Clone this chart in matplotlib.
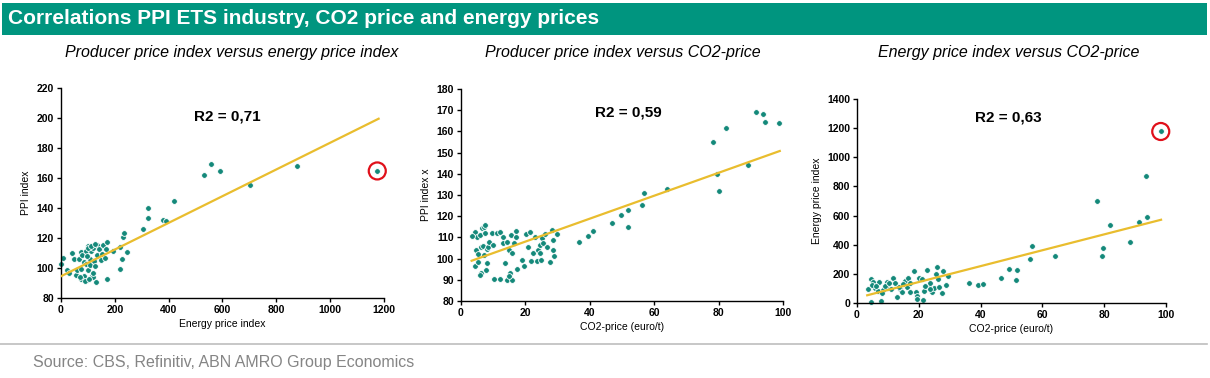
import numpy as np
import matplotlib
matplotlib.use('Agg')
import matplotlib.pyplot as plt
from matplotlib.patches import Rectangle
from matplotlib.lines import Line2D

plt.rcParams['font.family'] = ['Liberation Sans', 'DejaVu Sans']

# ---------------- data ----------------
# panel 1: energy price index (x) vs PPI index (y)
p1_energy = [0, 9, 24, 30, 42, 47, 55, 58, 67, 73, 76, 79, 84, 87, 92, 93, 97, 99, 102, 106,
             109, 112, 114, 118, 120, 124, 126, 129, 133, 135, 142, 148, 151, 157, 164, 166,
             172, 172, 194, 219, 218, 226, 232, 233, 244, 303, 322, 324, 378, 390, 421,
             533, 558, 591, 701, 875, 1175,
             100, 110, 125, 85, 75, 90, 70, 105, 118, 96]
p1_ppi = [102.7, 106.9, 98.9, 96.9, 110.0, 106.2, 95.1, 98.7, 105.8, 99.3, 110.9, 108.4, 104.2,
          94.4, 111.6, 102.4, 92.0, 98.7, 114.7, 106.0, 102.0, 111.3, 95.0, 113.6, 93.8, 104.7,
          101.3, 90.7, 108.7, 115.3, 112.4, 105.3, 109.1, 115.3, 106.4, 112.4, 117.3, 92.7,
          111.6, 113.8, 99.3, 105.8, 120.7, 123.3, 110.7, 125.8, 133.1, 140.0, 132.2, 131.1,
          144.4, 162.0, 169.6, 164.7, 155.4, 168.3, 164.7,
          113.5, 114.5, 116.0, 95.0, 92.5, 91.5, 94.0, 92.8, 96.5, 108.0]
p1_trend = (94.5, 0.0890)          # intercept, slope
p1_trend_range = (0, 1180)
p1_r2 = 'R2 = 0,71'
p1_highlight = (1175, 164.7)

# panel 2: CO2 price (x) vs PPI index (y)
p2_co2 = [4.4, 4.6, 4.4, 5.0, 5.4, 6.1, 5.9, 6.3, 6.6, 7.1, 7.5, 6.8, 7.0, 8.0, 8.0, 7.8, 8.5,
          8.7, 9.5, 10.0, 10.3, 11.1, 12.1, 12.1, 13.0, 13.0, 13.7, 14.2, 14.3, 14.9, 15.2,
          15.6, 15.8, 15.9, 16.5, 17.1, 17.1, 17.3, 18.9, 19.7, 20.1, 20.7, 21.4, 21.8, 22.5,
          23.0, 23.5, 23.8, 24.4, 24.6, 24.8, 25.2, 25.6, 26.1, 26.6, 27.7, 28.2, 28.5, 28.7,
          29.0, 29.7, 3.5, 6.0, 7.5, 14.8, 5.2,
          36.6, 39.4, 40.9, 46.8, 49.6, 51.8, 52.0, 56.2, 56.8, 64.1, 78.2, 79.5, 80.0,
          82.3, 89.0, 91.7, 93.8, 94.3, 98.7]
p2_ppi = [96.5, 104.1, 112.7, 110.0, 98.5, 105.5, 110.9, 93.0, 114.5, 114.8, 112.2, 106.0, 101.5,
          98.0, 104.6, 94.6, 105.6, 107.8, 112.0, 106.4, 90.3, 112.0, 112.6, 90.2, 110.4, 107.5,
          97.8, 89.8, 107.8, 104.1, 93.1, 111.0, 102.5, 90.0, 107.2, 113.1, 110.1, 95.0, 99.5,
          96.5, 111.6, 105.7, 112.5, 98.8, 102.6, 110.2, 98.8, 104.1, 106.2, 102.6, 99.5, 109.8,
          107.5, 111.5, 105.7, 98.5, 113.3, 108.8, 104.2, 101.3, 111.7, 110.5, 92.5, 116.0,
          92.0, 102.0,
          107.8, 110.5, 112.9, 116.9, 120.8, 115.1, 123.1, 125.4, 131.1, 132.7, 155.2, 139.7,
          131.9, 161.8, 144.2, 169.3, 168.0, 164.4, 164.1]
p2_trend = (97.2, 0.541)
p2_trend_range = (3.3, 99)
p2_r2 = 'R2 = 0,59'

# panel 3: CO2 price (x) vs energy price index (y)
p3_co2 = [4.4, 7.7, 4.5, 5.3, 7.1, 3.7, 5.8, 6.7, 8.5, 9.6, 10.1, 11.8, 12.3, 12.8, 14.0, 14.5,
          15.5, 16.1, 16.6, 17.1, 18.5, 19.1, 19.3, 19.5, 20.0, 20.9, 21.5, 21.8, 22.5, 23.3,
          23.6, 24.4, 24.9, 25.5, 25.8, 26.3, 26.5, 27.6, 27.9, 28.7, 29.5,
          5.0, 6.3, 9.0, 10.5, 13.5, 15.0, 17.0, 22.0, 23.5, 8.0, 11.0,
          36.4, 39.3, 40.9, 46.6, 49.2, 51.5, 51.9, 55.9, 56.5, 64.0, 77.8, 79.2, 79.6,
          81.9, 88.5, 91.4, 93.5, 93.9, 98.3]
p3_energy = [5, 13, 162, 146, 146, 93, 101, 85, 89, 146, 101, 169, 135, 39, 96, 78, 151, 112,
             169, 78, 220, 78, 48, 27, 169, 162, 20, 82, 227, 117, 140, 73, 105, 197, 245, 162,
             112, 71, 220, 124, 188,
             125, 115, 120, 140, 110, 130, 140, 120, 95, 70, 95,
             135, 121, 130, 173, 232, 158, 229, 301, 388, 321, 698, 321, 376, 532, 420, 558,
             872, 592, 1177]
p3_trend = (35, 5.45)
p3_trend_range = (3.3, 98.4)
p3_r2 = 'R2 = 0,63'
p3_highlight = (98.3, 1177)

# ---------------- styling ----------------
teal = '#00957F'
dot = '#14897A'
gold = '#E9BD2E'

fig = plt.figure(figsize=(12.1, 3.78), dpi=100)

# header bar
fig.patches.append(Rectangle((2 / 1210, 1 - 35 / 378), 1205 / 1210, 32 / 378,
                             transform=fig.transFigure, facecolor=teal, edgecolor='none'))
fig.text(8 / 1210, 1 - 19 / 378, 'Correlations PPI ETS industry, CO2 price and energy prices',
         color='white', fontsize=15, fontweight='bold', va='center', ha='left')

# footer
fig.add_artist(Line2D([0, 1207 / 1210], [1 - 344 / 378] * 2, transform=fig.transFigure,
                      color='#BDBDBD', linewidth=1.2))
fig.text(33 / 1210, 1 - 363 / 378, 'Source: CBS, Refinitiv, ABN AMRO Group Economics',
         color='#858585', fontsize=11.5, va='center', ha='left')


def panel(rect, x, y, trend, trange, r2, r2pos, xlim, ylim, xticks, yticks,
          xlabel, ylabel, subtitle, subx, highlight=None):
    ax = fig.add_axes(rect)
    ax.scatter(x, y, s=17, color=dot, edgecolors='white', linewidths=0.6, zorder=2,
               clip_on=False)
    tx = np.array(trange)
    ax.plot(tx, trend[0] + trend[1] * tx, color=gold, linewidth=1.6, zorder=3)
    if highlight is not None:
        ax.scatter([highlight[0]], [highlight[1]], s=150, facecolors='none',
                   edgecolors='#E0101A', linewidths=1.6, zorder=4, clip_on=False)
    ax.text(r2pos[0], r2pos[1], r2, fontsize=11, fontweight='bold', ha='center', va='center')
    ax.set_xlim(xlim)
    ax.set_ylim(ylim)
    ax.set_xticks(xticks)
    ax.set_yticks(yticks)
    for s in ['top', 'right']:
        ax.spines[s].set_visible(False)
    for s in ['left', 'bottom']:
        ax.spines[s].set_linewidth(1.0)
    ax.tick_params(direction='out', length=3, width=1, labelsize=7.5, pad=2)
    for lab in ax.get_xticklabels() + ax.get_yticklabels():
        lab.set_fontweight('bold')
    ax.set_xlabel(xlabel, fontsize=7.5, labelpad=3)
    ax.set_ylabel(ylabel, fontsize=7.5, labelpad=4)
    fig.text(subx / 1210, 1 - 52 / 378, subtitle, fontsize=11.5, style='italic',
             ha='center', va='center')
    return ax


panel([61 / 1210, 1 - 298 / 378, 323 / 1210, 210 / 378], p1_energy, p1_ppi,
      p1_trend, p1_trend_range, p1_r2, (617, 200.7), (0, 1200), (80, 220),
      np.arange(0, 1201, 200), np.arange(80, 221, 20),
      'Energy price index', 'PPI index', 'Producer price index versus energy price index',
      232, highlight=p1_highlight)

panel([461 / 1210, 1 - 301 / 378, 322 / 1210, 212 / 378], p2_co2, p2_ppi,
      p2_trend, p2_trend_range, p2_r2, (52, 168.7), (0, 100), (80, 180),
      np.arange(0, 101, 20), np.arange(80, 181, 10),
      'CO2-price (euro/t)', 'PPI index x', 'Producer price index versus CO2-price', 623)

panel([857 / 1210, 1 - 303 / 378, 309 / 1210, 204 / 378], p3_co2, p3_energy,
      p3_trend, p3_trend_range, p3_r2, (49, 1270), (0, 100), (0, 1400),
      np.arange(0, 101, 20), np.arange(0, 1401, 200),
      'CO2-price (euro/t)', 'Energy price index', 'Energy price index versus CO2-price',
      1009, highlight=p3_highlight)

fig.savefig('out.png', dpi=100)
